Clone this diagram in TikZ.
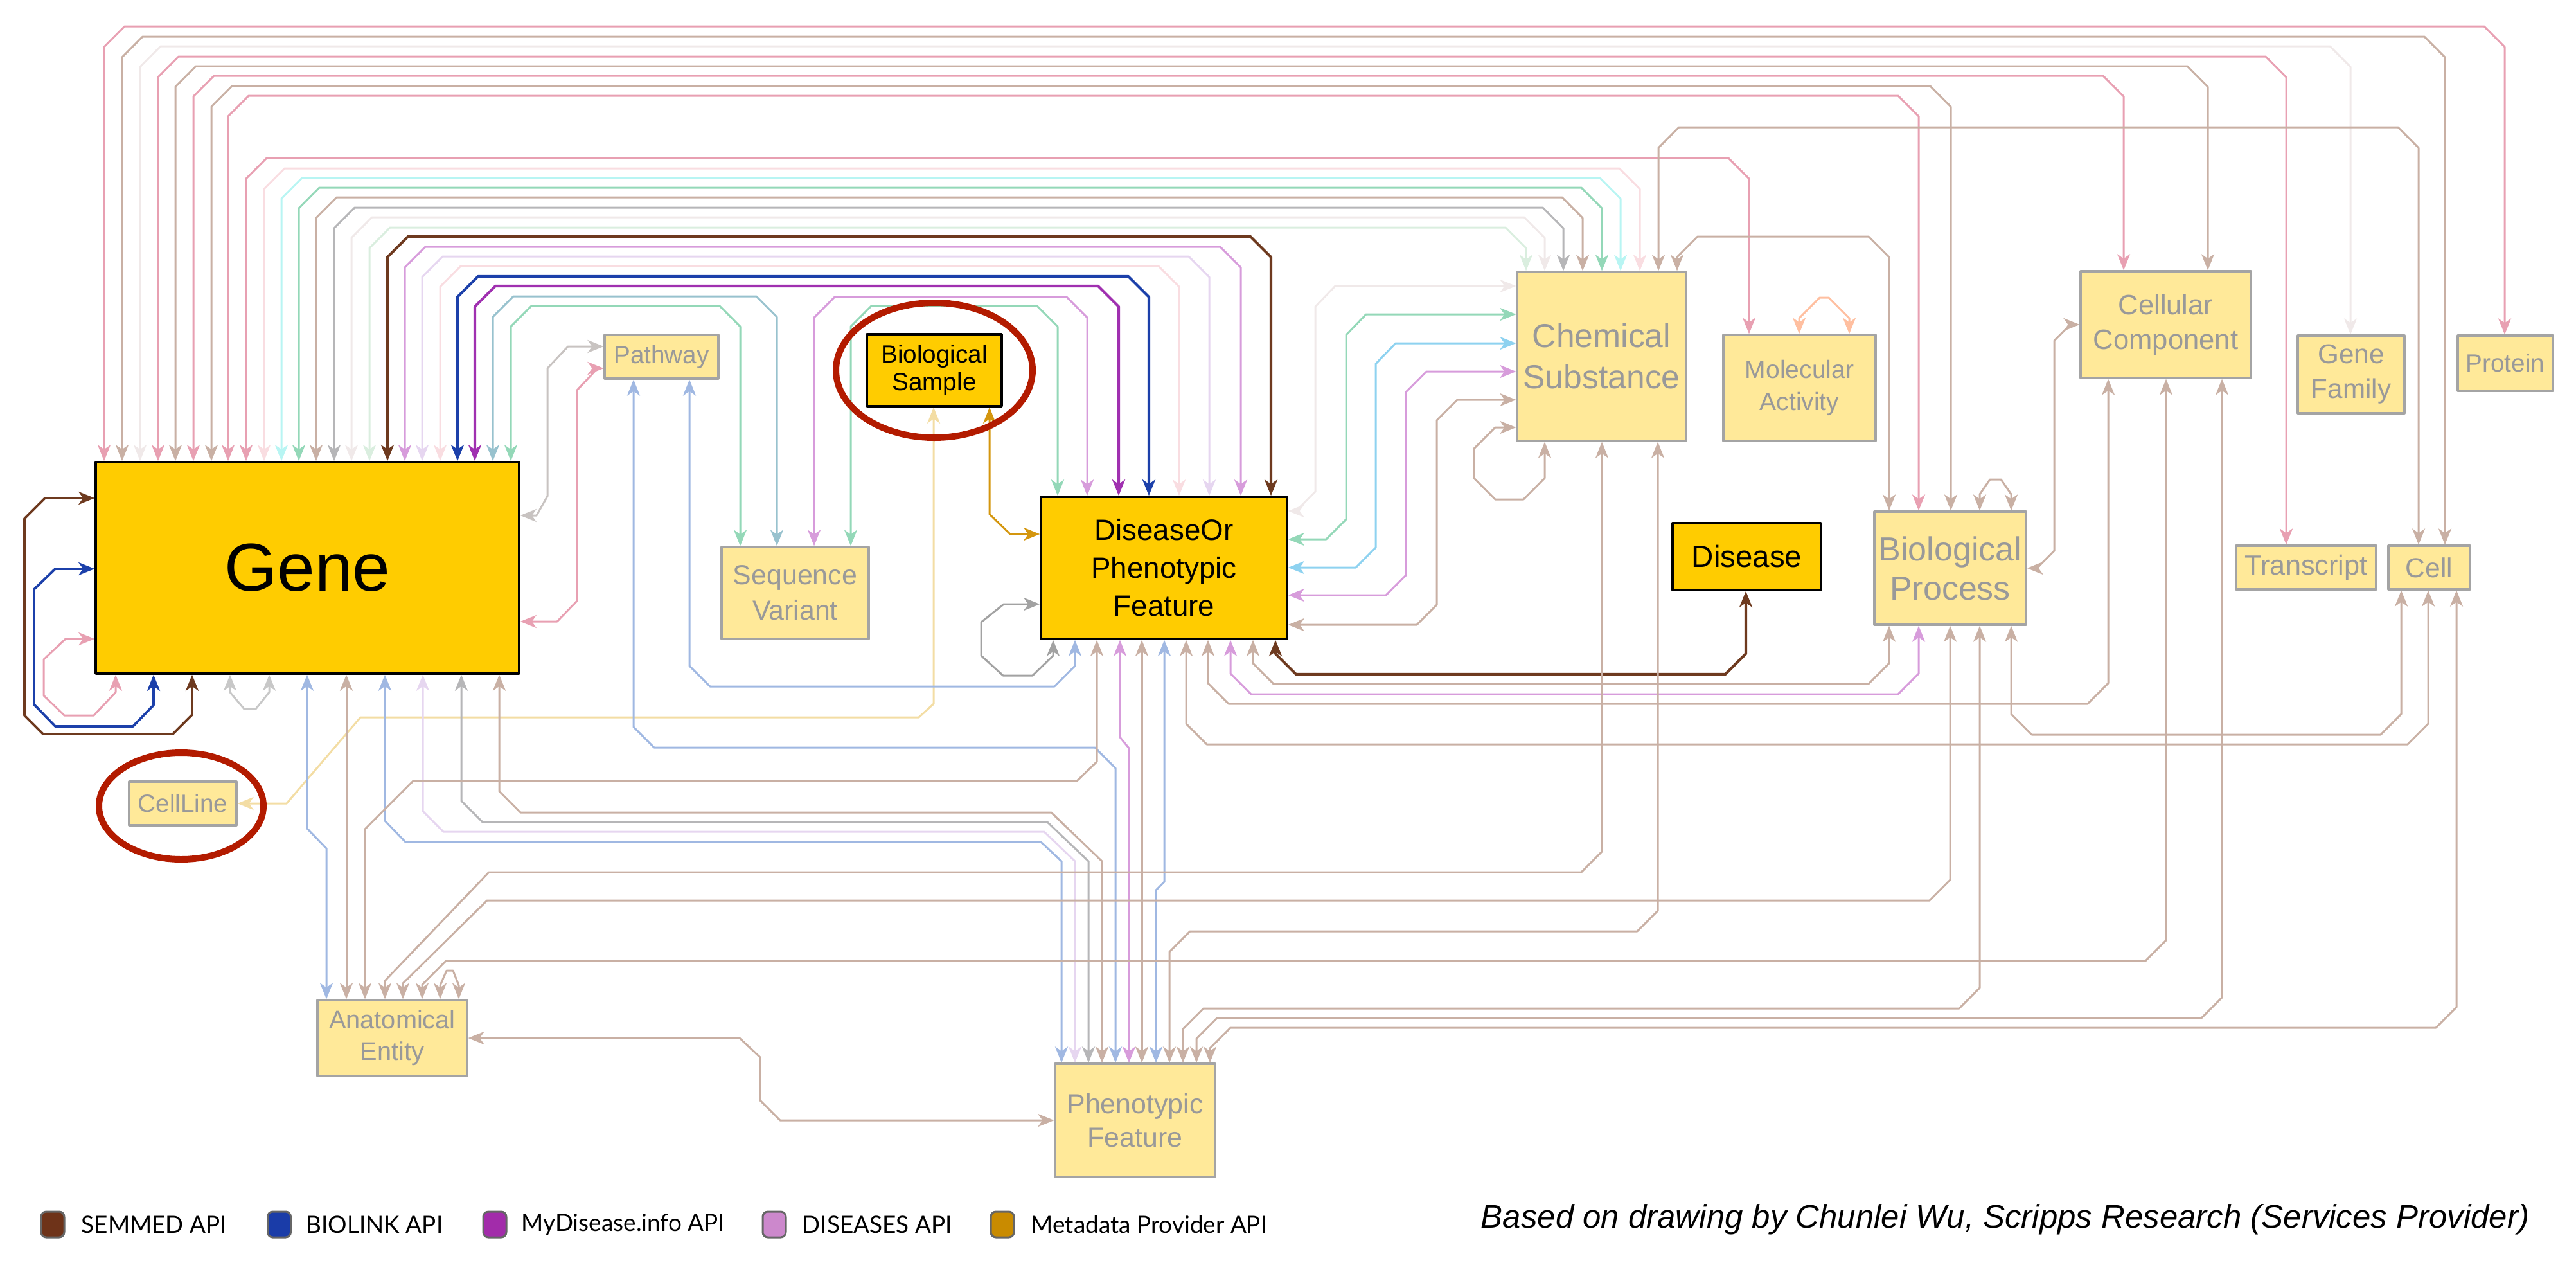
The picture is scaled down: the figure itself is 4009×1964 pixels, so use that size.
\documentclass[tikz,border=0pt]{standalone}
\usepackage{fontspec}
\setmainfont{Liberation Sans}
\newfontfamily\latofont{Lato}
\usetikzlibrary{arrows.meta}

\definecolor{goldfill}{HTML}{FFCC00}
\definecolor{palefill}{HTML}{FFE999}
\definecolor{paleedge}{HTML}{A4A4A4}
\definecolor{paletext}{HTML}{999999}
\definecolor{cpink}{HTML}{E8A0B2}
\definecolor{ctan}{HTML}{C9B0A4}
\definecolor{cvlight}{HTML}{F0E9E9}
\definecolor{clpink}{HTML}{F9DDE1}
\definecolor{ccyan}{HTML}{B8F5F3}
\definecolor{cgreen}{HTML}{94D8B8}
\definecolor{cgray}{HTML}{B6B6B8}
\definecolor{clgreen}{HTML}{DAEEDF}
\definecolor{semmed}{HTML}{6E3A1F}
\definecolor{cdis}{HTML}{D79CDB}
\definecolor{clav}{HTML}{E6D6F0}
\definecolor{biolink}{HTML}{1C40AA}
\definecolor{mydis}{HTML}{A030B0}
\definecolor{csteel}{HTML}{98C2CE}
\definecolor{cperi}{HTML}{A0B8E2}
\definecolor{csky}{HTML}{8ED2F0}
\definecolor{meta}{HTML}{D4960E}
\definecolor{cpale}{HTML}{F3DDA4}
\definecolor{cpeach}{HTML}{FFBFA0}
\definecolor{cdgray}{HTML}{A2A2A2}
\definecolor{clgray}{HTML}{C8C8C8}
\definecolor{ring}{HTML}{B31B00}
\definecolor{legsemmed}{HTML}{6E3319}
\definecolor{legbiolink}{HTML}{1A3CA8}
\definecolor{legmydis}{HTML}{A22CAA}
\definecolor{legdis}{HTML}{CC88CC}
\definecolor{legmeta}{HTML}{C98B00}

% links: style, x on first node, first node, x on second node, second node, height of the run
\newcommand{\archlink}[6]{\draw[lk,#1] (#2,0 |- #3.north) -- (#2,#6+32) -- (#2+32,#6) -- (#4-32,#6) -- (#4,#6+32) -- (#4,0 |- #5.north);}
\newcommand{\underlink}[6]{\draw[lk,#1] (#2,0 |- #3.south) -- (#2,#6-32) -- (#2+32,#6) -- (#4-32,#6) -- (#4,#6-32) -- (#4,0 |- #5.south);}
\newcommand{\stairlink}[6]{\draw[lk,#1] (#2,0 |- #3.south) -- (#2,#6-32) -- (#2+32,#6) -- (#4-32,#6) -- (#4,#6+32) -- (#4,0 |- #5.north);}
\newcommand{\droplink}[6]{\draw[lk,#1] (#2,0 |- #3.south) -- (#2,#6-32) -- (#2-32,#6) -- (#4+32,#6) -- (#4,#6+32) -- (#4,0 |- #5.north);}

\begin{document}
\begin{tikzpicture}[x=0.1mm,y=-0.1mm,line cap=round,line join=round,
    >={Stealth[length=2.5mm,width=2mm,inset=0.7mm]},
    gold/.style={draw=black,line width=0.35mm,fill=goldfill,inner sep=0pt,align=center,text=black},
    pale/.style={draw=paleedge,line width=0.32mm,fill=palefill,inner sep=0pt,align=center,text=paletext},
    lk/.style={<->,line width=0.3mm},
    heavy/.style={line width=0.42mm},
    legbox/.style={draw=black!60,line width=0.3mm,rounded corners=0.8mm,minimum width=3.6mm,minimum height=4mm,inner sep=0pt},
    legtext/.style={anchor=west,inner sep=0pt,font=\latofont\fontsize{10.5}{12}\selectfont}]

    \useasboundingbox (0,0) rectangle (4009,1964);

    % nodes
    \node[gold,minimum width=65.9mm,minimum height=32.9mm,font=\fontsize{30}{36}\selectfont] (gene) at (478.5,883.5) {Gene};
    \node[pale,minimum width=17.7mm,minimum height=6.8mm,font=\fontsize{11}{13}\selectfont] (pathway) at (1029.5,555) {Pathway};
    \node[gold,minimum width=21mm,minimum height=11.2mm,font=\fontsize{11}{12.2}\selectfont] (biosample) at (1454,576) {Biological\\Sample};
    \node[pale,minimum width=22.9mm,minimum height=14.3mm,font=\fontsize{12.2}{15.6}\selectfont] (seqvar) at (1237.5,922.5) {Sequence\\Variant};
    \node[gold,minimum width=38.3mm,minimum height=22.1mm,font=\fontsize{13}{16.8}\selectfont] (dopf) at (1811.5,883.5) {DiseaseOr\\Phenotypic\\Feature};
    \node[pale,minimum width=26.3mm,minimum height=26.3mm,font=\fontsize{14.7}{18.2}\selectfont] (chemsub) at (2492.5,554.5) {Chemical\\Substance};
    \node[pale,minimum width=23.7mm,minimum height=16.5mm,font=\fontsize{11.1}{14.2}\selectfont] (molact) at (2800.5,603.5) {Molecular\\Activity};
    \node[gold,minimum width=23.1mm,minimum height=10.4mm,font=\fontsize{13.5}{16}\selectfont] (disease) at (2718.5,866) {Disease};
    \node[pale,minimum width=26.5mm,minimum height=16.6mm,font=\fontsize{12.4}{15.4}\selectfont] (cellcomp) at (3370.5,505) {Cellular\\Component};
    \node[pale,minimum width=16.6mm,minimum height=12.1mm,font=\fontsize{12}{15.4}\selectfont] (genefam) at (3659,582.5) {Gene\\Family};
    \node[pale,minimum width=14.8mm,minimum height=8.6mm,font=\fontsize{11}{13}\selectfont] (protein) at (3899,565) {Protein};
    \node[pale,minimum width=23.6mm,minimum height=17.6mm,font=\fontsize{14.8}{17.4}\selectfont] (bioproc) at (3035,884) {Biological\\Process};
    \node[pale,minimum width=21.8mm,minimum height=6.8mm,font=\fontsize{12.3}{14}\selectfont] (transcript) at (3589,883) {Transcript};
    \node[pale,minimum width=12.7mm,minimum height=6.8mm,font=\fontsize{12.1}{14}\selectfont] (cell) at (3780.5,883) {Cell};
    \node[pale,minimum width=16.7mm,minimum height=6.8mm,font=\fontsize{11}{13}\selectfont] (cellline) at (284.5,1250) {CellLine};
    \node[pale,minimum width=23.3mm,minimum height=11.8mm,font=\fontsize{11.3}{13.9}\selectfont] (anatent) at (610.5,1615) {Anatomical\\Entity};
    \node[pale,minimum width=24.9mm,minimum height=17.6mm,font=\fontsize{12.2}{14.8}\selectfont] (phenofeat) at (1766.5,1743) {Phenotypic\\Feature};

    % links over the top of Gene
    \archlink{cpink}{162}{gene}{3898}{protein}{41}
    \archlink{ctan}{190}{gene}{3805}{cell}{57}
    \archlink{cvlight}{218}{gene}{3658}{genefam}{72}
    \archlink{cpink}{246}{gene}{3558}{transcript}{88}
    \archlink{ctan}{273}{gene}{3436}{cellcomp}{103}
    \archlink{cpink}{301}{gene}{3305}{cellcomp}{118}
    \archlink{ctan}{329}{gene}{3036}{bioproc}{134}
    \archlink{cpink}{355}{gene}{2986}{bioproc}{149}
    \archlink{cpink}{383}{gene}{2722}{molact}{246}
    \archlink{clpink}{411}{gene}{2552}{chemsub}{262}
    \archlink{ccyan}{438}{gene}{2522}{chemsub}{277}
    \archlink{cgreen}{465}{gene}{2493}{chemsub}{292}
    \archlink{ctan}{492}{gene}{2463}{chemsub}{307}
    \archlink{cgray}{520}{gene}{2433}{chemsub}{323}
    \archlink{cvlight}{547}{gene}{2404}{chemsub}{338}
    \archlink{clgreen}{575}{gene}{2375}{chemsub}{354}
    \archlink{semmed,heavy}{603}{gene}{1978}{dopf}{368}
    \archlink{cdis}{630}{gene}{1931}{dopf}{384}
    \archlink{clav}{657}{gene}{1882}{dopf}{399}
    \archlink{clpink}{685}{gene}{1835}{dopf}{414}
    \archlink{biolink,heavy}{712}{gene}{1788}{dopf}{430}
    \archlink{mydis,heavy}{739}{gene}{1741}{dopf}{445}
    \archlink{csteel}{767}{gene}{1209}{seqvar}{461}
    \archlink{cgreen}{795}{gene}{1152}{seqvar}{476}
    \archlink{cdis}{1267}{seqvar}{1692}{dopf}{462}
    \archlink{cgreen}{1324}{seqvar}{1646}{dopf}{476}
    \archlink{ctan}{2581}{chemsub}{3764}{cell}{198}
    \archlink{ctan}{2610}{chemsub}{2940}{bioproc}{368}
    \archlink{cpeach}{2800}{molact}{2878}{molact}{463}
    \draw[lk,ctan] (3081,0 |- bioproc.north) -- (3081,769) -- (3097,746) -- (3114,746) -- (3130,769) -- (3130,0 |- bioproc.north);

    % self loops of Gene
    \draw[lk,semmed,line width=0.38mm] (299,0 |- gene.south) -- (299,1112) -- (269,1142) -- (67,1142) -- (38,1113) -- (38,807) -- (70,775) -- (gene.west |- 0,775);
    \draw[lk,biolink,line width=0.38mm] (239,0 |- gene.south) -- (239,1097) -- (207,1130) -- (86,1130) -- (53,1096) -- (53,917) -- (86,885) -- (gene.west |- 0,885);
    \draw[lk,cpink] (180,0 |- gene.south) -- (180,1077) -- (146,1113) -- (100,1113) -- (68,1082) -- (68,1026) -- (102,994) -- (gene.west |- 0,994);
    \draw[lk,clgray] (358,0 |- gene.south) -- (358,1077) -- (380,1103) -- (398,1103) -- (419,1077) -- (419,0 |- gene.south);

    % Gene and Pathway
    \draw[lk,clgray!80!ctan] (gene.east |- 0,802) -- (835,802) -- (852,772) -- (852,573) -- (884,539) -- (pathway.west |- 0,539);
    \draw[lk,cpink] (gene.east |- 0,967) -- (867,967) -- (898,935) -- (898,607) -- (930,573) -- (pathway.west |- 0,573);

    % samples
    \draw[lk,cpale] (1453,0 |- biosample.south) -- (1453,1095) -- (1430,1116) -- (561,1116) -- (446,1250) -- (cellline.east);
    \draw[lk,meta] (1540,0 |- biosample.south) -- (1540,800) -- (1572,831) -- (dopf.west |- 0,831);
    \draw[lk,cdgray] (dopf.west |- 0,940) -- (1562,940) -- (1527,968) -- (1527,1020) -- (1561,1051) -- (1607,1051) -- (1639,1020) -- (1639,0 |- dopf.south);

    % Chemical Substance and DiseaseOrPhenotypicFeature
    \draw[lk,cvlight] (chemsub.west |- 0,445) -- (2078,445) -- (2047,477) -- (2047,765) -- (2017,795) -- (dopf.east |- 0,795);
    \draw[lk,cgreen] (chemsub.west |- 0,489) -- (2126,489) -- (2095,521) -- (2095,808) -- (2064,839) -- (dopf.east |- 0,839);
    \draw[lk,csky] (chemsub.west |- 0,534) -- (2172,534) -- (2141,566) -- (2141,852) -- (2110,883) -- (dopf.east |- 0,883);
    \draw[lk,cdis] (chemsub.west |- 0,578) -- (2220,578) -- (2188,610) -- (2188,895) -- (2157,926) -- (dopf.east |- 0,926);
    \draw[lk,ctan] (chemsub.west |- 0,622) -- (2268,622) -- (2236,654) -- (2236,941) -- (2205,972) -- (dopf.east |- 0,972);
    \draw[lk,ctan] (chemsub.west |- 0,665) -- (2327,665) -- (2294,698) -- (2294,744) -- (2327,777) -- (2371,777) -- (2404,744) -- (2404,0 |- chemsub.south);

    % Biological Process and Cellular Component
    \draw[lk,ctan] (bioproc.east) -- (3170,884) -- (3197,857) -- (3197,530) -- (3222,505) -- (cellcomp.west);

    % under DiseaseOrPhenotypicFeature
    \underlink{semmed,heavy}{1985}{dopf}{2717}{disease}{1049}
    \underlink{ctan}{1950}{dopf}{2940}{bioproc}{1064}
    \underlink{cdis}{1915}{dopf}{2986}{bioproc}{1080}
    \underlink{ctan}{1880}{dopf}{3281}{cellcomp}{1095}
    \underlink{ctan}{1846}{dopf}{3779}{cell}{1158}
    \underlink{ctan}{3130}{bioproc}{3737}{cell}{1143}
    \underlink{cperi}{1073}{pathway}{1673}{dopf}{1068}
    \draw[lk,ctan] (1777,0 |- dopf.south) -- (1777,0 |- phenofeat.north);
    \draw[lk,cdis] (1743,0 |- dopf.south) -- (1743,1147) -- (1757,1164) -- (1757,0 |- phenofeat.north);
    \draw[lk,cperi] (1812,0 |- dopf.south) -- (1812,1372) -- (1799,1385) -- (1799,0 |- phenofeat.north);

    % down to Phenotypic Feature
    \stairlink{cperi}{986}{pathway}{1736}{phenofeat}{1163}
    \draw[lk,cperi] (599,0 |- gene.south) -- (599,1277) -- (631,1310) -- (1620,1310) -- (1652,1340) -- (1652,0 |- phenofeat.north);
    \draw[lk,clav] (658,0 |- gene.south) -- (658,1262) -- (690,1294) -- (1625,1294) -- (1673,1340) -- (1673,0 |- phenofeat.north);
    \draw[lk,cgray] (718,0 |- gene.south) -- (718,1246) -- (751,1279) -- (1630,1279) -- (1694,1340) -- (1694,0 |- phenofeat.north);
    \draw[lk,ctan] (777,0 |- gene.south) -- (777,1231) -- (810,1264) -- (1636,1264) -- (1715,1340) -- (1715,0 |- phenofeat.north);
    \droplink{ctan}{2580}{chemsub}{1820}{phenofeat}{1449}
    \droplink{ctan}{3081}{bioproc}{1841}{phenofeat}{1569}
    \droplink{ctan}{3458}{cellcomp}{1862}{phenofeat}{1584}
    \droplink{ctan}{3823}{cell}{1883}{phenofeat}{1599}

    % down to Anatomical Entity
    \draw[lk,cperi] (478,0 |- gene.south) -- (478,1289) -- (508,1320) -- (508,0 |- anatent.north);
    \draw[lk,ctan] (539,0 |- gene.south) -- (539,0 |- anatent.north);
    \draw[lk,ctan] (1707,0 |- dopf.south) -- (1707,1185) -- (1676,1215) -- (643,1215) -- (568,1290) -- (568,0 |- anatent.north);
    \draw[lk,ctan] (2493,0 |- chemsub.south) -- (2493,1325) -- (2461,1357) -- (761,1357) -- (599,1526) -- (599,0 |- anatent.north);
    \draw[lk,ctan] (3035,0 |- bioproc.south) -- (3035,1369) -- (3003,1401) -- (758,1401) -- (627,1530) -- (627,0 |- anatent.north);
    \draw[lk,ctan] (3371,0 |- cellcomp.south) -- (3371,1463) -- (3339,1495) -- (694,1495) -- (657,1532) -- (657,0 |- anatent.north);
    \draw[lk,ctan] (685,0 |- anatent.north) -- (685,1533) -- (695,1510) -- (705,1510) -- (714,1533) -- (714,0 |- anatent.north);
    \draw[lk,ctan] (anatent.east) -- (1151,1615) -- (1183,1645) -- (1183,1712) -- (1214,1743) -- (phenofeat.west);

    % rings
    \draw[ring,line width=1mm] (biosample.center) ellipse [x radius=15.3mm,y radius=10.5mm];
    \draw[ring,line width=1mm] (282,1254) ellipse [x radius=12.8mm,y radius=8.3mm];

    % legend
    \node[legbox,fill=legsemmed] (lsemmed) at (82,1905) {};
    \node[legtext] at (126,1905) {SEMMED API};
    \node[legbox,fill=legbiolink] (lbiolink) at (434.5,1905) {};
    \node[legtext] at (476,1905) {BIOLINK API};
    \node[legbox,fill=legmydis] (lmydis) at (770,1905) {};
    \node[legtext] at (811,1905) {MyDisease.info API};
    \node[legbox,fill=legdis] (ldis) at (1205,1905) {};
    \node[legtext] at (1248,1905) {DISEASES API};
    \node[legbox,fill=legmeta] (lmeta) at (1560,1905) {};
    \node[legtext] at (1604,1905) {Metadata Provider API};

    \node[anchor=base east,inner sep=0pt,font=\itshape\fontsize{14.5}{17}\selectfont] (credit) at (3937,1910) {Based on drawing by Chunlei Wu, Scripps Research (Services Provider)};
\end{tikzpicture}
\end{document}
